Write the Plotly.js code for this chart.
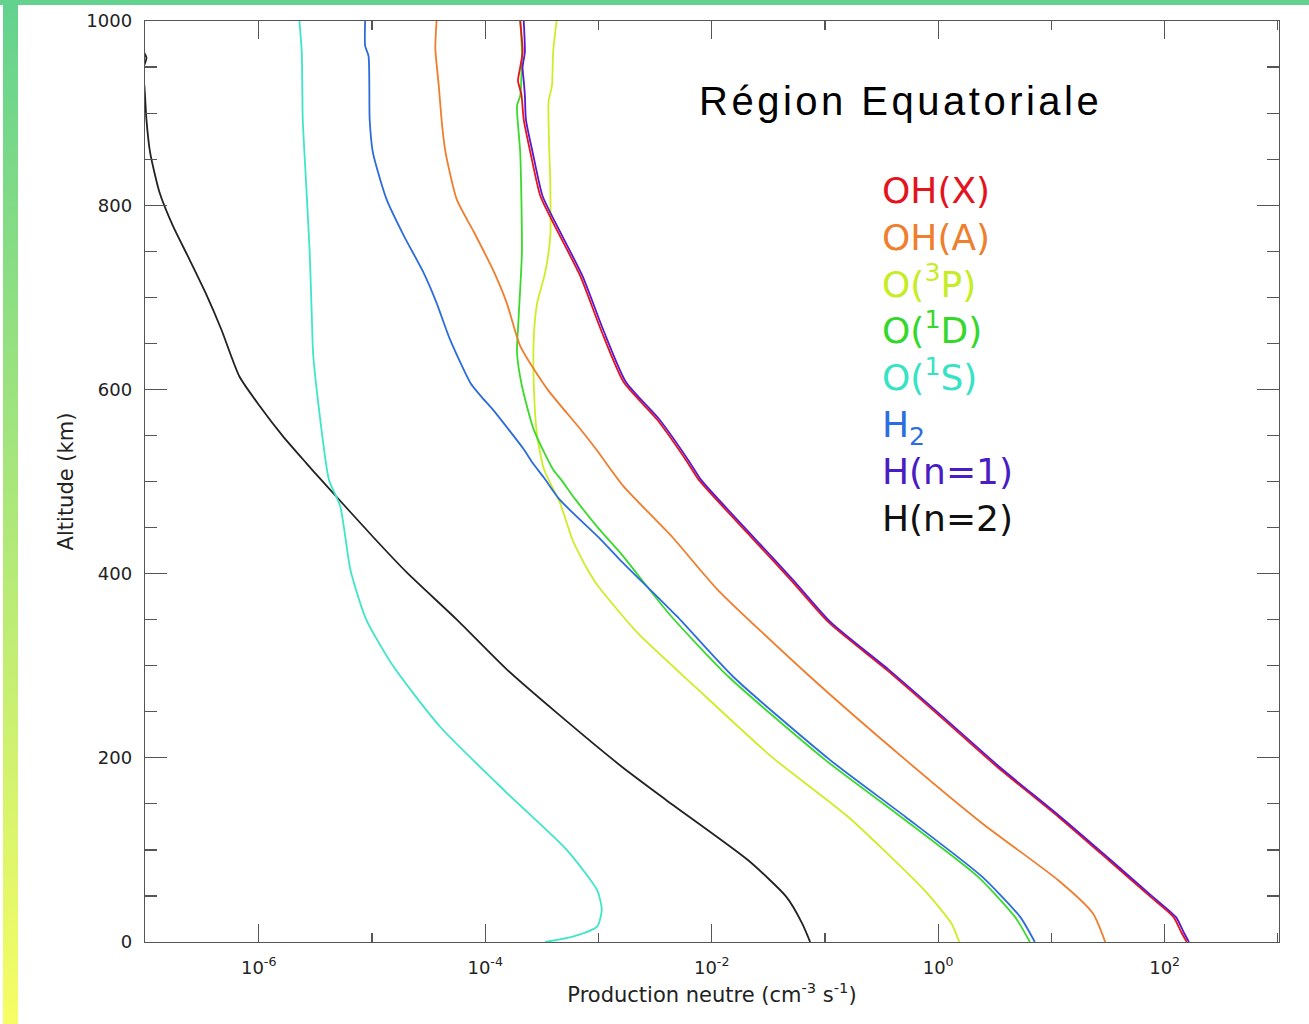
<!DOCTYPE html>
<html>
<head>
<meta charset="utf-8">
<script src="https://cdn.plot.ly/plotly-3.0.1.min.js"></script>
<style>
  html, body { margin: 0; padding: 0; background: #ffffff; }
  #page { position: relative; width: 1309px; height: 1024px; overflow: hidden; }
  #bandTop { position: absolute; left: 0; top: 0; width: 1309px; height: 5px; background: #63d28f; }
  #bandLeft { position: absolute; left: 3px; top: 0; width: 15px; height: 1024px;
              background: linear-gradient(to bottom, #63d28f 0%, #f7fd64 100%); }
  #chart { position: absolute; left: 0; top: 0; width: 1309px; height: 1024px; }
</style>
</head>
<body>
<div id="page">
  <div id="bandLeft"></div>
  <div id="bandTop"></div>
  <div id="chart"></div>
</div>
<script>
// Neutral production rates (cm^-3 s^-1) versus altitude (km), equatorial region

const altOHX = [0, 10, 27, 49, 89, 136, 190, 245, 296, 347, 393, 437, 502, 521, 567, 608, 665, 723, 781, 810, 857, 893, 920, 935, 950, 966, 1000];
const prodOHX = [157, 141, 120, 75.2, 31.9, 11.5, 3.33, 1.04, 0.347, 0.108, 0.0501, 0.0234, 7.67e-3, 6.10e-3, 3.31e-3, 1.67e-3, 1.05e-3, 6.92e-4, 3.98e-4, 3.07e-4, 2.51e-4, 2.19e-4, 2.09e-4, 1.95e-4, 2.04e-4, 2.14e-4, 2.04e-4];

const altHn1 = [0, 10, 27, 49, 89, 136, 190, 245, 296, 347, 393, 437, 502, 521, 567, 608, 665, 723, 781, 810, 857, 893, 920, 935, 950, 966, 1000];
const prodHn1 = [164, 148, 126, 78.7, 33.4, 12.0, 3.49, 1.09, 0.363, 0.113, 0.0525, 0.0245, 8.03e-3, 6.39e-3, 3.47e-3, 1.75e-3, 1.10e-3, 7.24e-4, 4.17e-4, 3.21e-4, 2.63e-4, 2.29e-4, 2.24e-4, 2.19e-4, 2.14e-4, 2.24e-4, 2.19e-4];

const altOHA = [0, 31, 67, 129, 198, 288, 383, 440, 495, 535, 557, 600, 647, 694, 730, 771, 806, 857, 886, 930, 970, 1000];
const prodOHA = [29.9, 23.3, 11.5, 2.44, 0.513, 0.0741, 0.0112, 4.47e-3, 1.66e-3, 9.55e-4, 6.92e-4, 3.55e-4, 2.04e-4, 1.55e-4, 1.17e-4, 7.94e-5, 5.62e-5, 4.47e-5, 4.17e-5, 3.89e-5, 3.63e-5, 3.72e-5];

const altO3P = [0, 20, 56, 136, 201, 277, 335, 386, 401, 419, 437, 477, 513, 549, 604, 658, 694, 727, 767, 821, 912, 930, 966, 1000];
const prodO3P = [1.535, 1.312, 0.759, 0.160, 0.0339, 7.16e-3, 2.24e-3, 1.00e-3, 8.32e-4, 6.92e-4, 5.89e-4, 4.57e-4, 3.31e-4, 2.88e-4, 2.69e-4, 2.69e-4, 2.88e-4, 3.39e-4, 3.76e-4, 3.76e-4, 3.63e-4, 3.89e-4, 3.98e-4, 4.27e-4];

const altO1D = [0, 27, 71, 136, 198, 288, 354, 423, 448, 480, 502, 513, 556, 604, 640, 676, 749, 857, 908, 919, 966, 1000];
const prodO1D = [6.46, 4.79, 2.24, 0.468, 0.100, 0.0141, 4.37e-3, 1.55e-3, 1.02e-3, 6.31e-4, 4.68e-4, 3.98e-4, 2.69e-4, 2.11e-4, 1.91e-4, 1.97e-4, 2.11e-4, 2.04e-4, 1.91e-4, 2.04e-4, 2.11e-4, 2.04e-4];

const altO1S = [0, 6, 17, 35, 56, 100, 162, 234, 299, 350, 404, 473, 502, 586, 640, 676, 749, 821, 893, 966, 1000];
const prodO1S = [3.39e-4, 6.03e-4, 9.77e-4, 1.07e-3, 9.77e-4, 5.25e-4, 1.55e-4, 3.98e-5, 1.55e-5, 8.91e-6, 6.46e-6, 5.25e-6, 4.17e-6, 3.35e-6, 3.02e-6, 2.95e-6, 2.82e-6, 2.63e-6, 2.45e-6, 2.40e-6, 2.29e-6];

const altH2 = [0, 27, 71, 136, 198, 288, 354, 415, 437, 480, 504, 520, 535, 578, 593, 607, 654, 694, 727, 767, 806, 857, 893, 962, 973, 1000];
const prodH2 = [7.14, 5.32, 2.44, 0.513, 0.110, 0.0155, 4.90e-3, 1.55e-3, 1.05e-3, 4.57e-4, 3.31e-4, 2.63e-4, 2.19e-4, 1.17e-4, 9.12e-5, 7.41e-5, 4.90e-5, 3.72e-5, 2.85e-5, 1.91e-5, 1.35e-5, 1.02e-5, 9.55e-6, 9.33e-6, 8.71e-6, 8.71e-6];

const altHn2 = [0, 20, 49, 89, 154, 190, 249, 296, 350, 401, 440, 502, 520, 549, 582, 614, 665, 705, 741, 778, 814, 857, 893, 930, 945, 960, 975];
const prodHn2 = [0.0741, 0.0631, 0.0457, 0.0209, 3.98e-3, 1.62e-3, 4.27e-4, 1.55e-4, 5.62e-5, 2.04e-5, 1.02e-5, 3.55e-6, 2.63e-6, 1.64e-6, 1.02e-6, 6.76e-7, 4.68e-7, 3.39e-7, 2.45e-7, 1.74e-7, 1.33e-7, 1.10e-7, 1.02e-7, 9.77e-8, 9.33e-8, 1.02e-7, 8.71e-8];

// Species labels and colours (drawn back to front: H(n=2) first, H(n=1) on top)
const speciesLabels = ['OH(X)', 'OH(A)', 'O(<sup>3</sup>P)', 'O(<sup>1</sup>D)', 'O(<sup>1</sup>S)', 'H<sub>2</sub>', 'H(n=1)', 'H(n=2)'];
const speciesColors = ['#e4141e', '#ee7f2e', '#c6ec24', '#34d82a', '#36e3c4', '#2a6ee0', '#4a1cc4', '#111111'];
const lineColors    = ['#e8141c', '#f07d2c', '#cdee26', '#3ada2c', '#3ee6c8', '#2d6cdc', '#5a18d0', '#222222'];

const xTickVals = [1e-6, 1e-4, 1e-2, 1, 1e2];
const xTickText = ['10<sup>-6</sup>', '10<sup>-4</sup>', '10<sup>-2</sup>', '10<sup>0</sup>', '10<sup>2</sup>'];
const xMinorVals = [1e-5, 1e-3, 1e-1, 1e1, 1e3];

const series = [
  { alt: altHn2, prod: prodHn2, idx: 7 },
  { alt: altO1S, prod: prodO1S, idx: 4 },
  { alt: altO3P, prod: prodO3P, idx: 2 },
  { alt: altO1D, prod: prodO1D, idx: 3 },
  { alt: altH2,  prod: prodH2,  idx: 5 },
  { alt: altOHA, prod: prodOHA, idx: 1 },
  { alt: altOHX, prod: prodOHX, idx: 0 },
  { alt: altHn1, prod: prodHn1, idx: 6 }
];

const traces = series.map(s => ({
  type: 'scatter',
  mode: 'lines',
  x: s.prod,
  y: s.alt,
  name: speciesLabels[s.idx],
  line: { color: lineColors[s.idx], width: 1.8, shape: 'spline', smoothing: 0.6 },
  showlegend: false,
  hoverinfo: 'skip'
}));

const tickFont = { family: 'DejaVu Sans, sans-serif', size: 18, color: '#222' };
const titleFont = { family: 'DejaVu Sans, sans-serif', size: 21, color: '#222' };
const axisColor = '#555';

const legendText = speciesLabels
  .map((t, i) => '<span style="color:' + speciesColors[i] + '">' + t + '</span>')
  .join('<br>');

const layout = {
  width: 1309,
  height: 1024,
  margin: { l: 145, r: 30, t: 21, b: 82, pad: 0 },
  paper_bgcolor: 'rgba(0,0,0,0)',
  plot_bgcolor: '#ffffff',
  showlegend: false,
  xaxis: {
    type: 'log',
    range: [-7.004, 3.01],
    tickmode: 'array',
    tickvals: xTickVals,
    ticktext: xTickText,
    ticks: 'inside',
    ticklen: 18,
    tickwidth: 1.2,
    tickcolor: axisColor,
    minor: { tickmode: 'array', tickvals: xMinorVals, ticks: 'inside', ticklen: 9, tickwidth: 1.2, tickcolor: axisColor, showgrid: false },
    showline: true,
    linecolor: axisColor,
    linewidth: 1.3,
    mirror: 'ticks',
    showgrid: false,
    zeroline: false,
    tickfont: tickFont,
    ticklabelstandoff: 9,
    title: {
      text: 'Production neutre (cm<sup>-3</sup> s<sup>-1</sup>)',
      font: titleFont,
      standoff: 10
    }
  },
  yaxis: {
    range: [0, 1000],
    tickmode: 'linear',
    tick0: 0,
    dtick: 200,
    ticks: 'inside',
    ticklen: 22,
    tickwidth: 1.2,
    tickcolor: axisColor,
    minor: { dtick: 50, ticks: 'inside', ticklen: 12, tickwidth: 1.2, tickcolor: axisColor, showgrid: false },
    showline: true,
    linecolor: axisColor,
    linewidth: 1.3,
    mirror: 'ticks',
    showgrid: false,
    zeroline: false,
    tickfont: tickFont,
    ticklabelstandoff: 8,
    title: {
      text: 'Altitude (km)',
      font: titleFont,
      standoff: 7
    }
  },
  annotations: [
    {
      xref: 'paper', yref: 'paper',
      x: 0.4868, y: 0.913,
      xanchor: 'left', yanchor: 'middle',
      text: '<span style="letter-spacing:3.5px">Région Equatoriale</span>',
      showarrow: false,
      font: { family: 'Liberation Sans, Arial, sans-serif', size: 40, color: '#000' }
    },
    {
      xref: 'paper', yref: 'paper',
      x: 0.648, y: 0.638,
      xanchor: 'left', yanchor: 'middle',
      align: 'left',
      text: legendText,
      showarrow: false,
      font: { family: 'DejaVu Sans, sans-serif', size: 36, color: '#000' }
    }
  ]
};

Plotly.newPlot('chart', traces, layout, { staticPlot: true, displayModeBar: false });
</script>
</body>
</html>
